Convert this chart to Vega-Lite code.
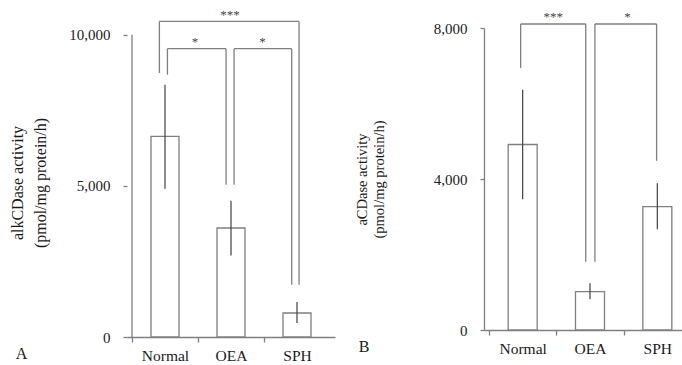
{
  "$schema": "https://vega.github.io/schema/vega-lite/v6.json",
  "padding": {"left": 9, "top": 8, "right": 0, "bottom": 0},
  "background": "white",
  "spacing": 19,
  "align": "none",
  "datasets": {
    "barsA": [
      {"group": "Normal", "pos": 1, "mean": 6636, "lo": 4906, "hi": 8346},
      {"group": "OEA", "pos": 2, "mean": 3606, "lo": 2699, "hi": 4509},
      {"group": "SPH", "pos": 3, "mean": 794, "lo": 463, "hi": 1158}
    ],
    "barsB": [
      {"group": "Normal", "pos": 1, "mean": 4914, "lo": 3466, "hi": 6364},
      {"group": "OEA", "pos": 2, "mean": 1016, "lo": 814, "hi": 1238},
      {"group": "SPH", "pos": 3, "mean": 3270, "lo": 2670, "hi": 3890}
    ],
    "sigA": [
      {"pair": "Normal-SPH", "x1": 0.915, "x2": 3.031, "top": 10440, "lo1": 8733, "lo2": 1730, "xm": 1.983, "label": "***"},
      {"pair": "Normal-OEA", "x1": 1.037, "x2": 1.925, "top": 9537, "lo1": 8677, "lo2": 5038, "xm": 1.455, "label": "*"},
      {"pair": "OEA-SPH", "x1": 2.046, "x2": 2.92, "top": 9537, "lo1": 5038, "lo2": 1730, "xm": 2.479, "label": "*"}
    ],
    "sigB": [
      {"pair": "Normal-OEA", "x1": 0.97, "x2": 1.937, "top": 8106, "lo1": 6939, "lo2": 1811, "xm": 1.454, "label": "***"},
      {"pair": "OEA-SPH", "x1": 2.073, "x2": 2.989, "top": 8106, "lo1": 1811, "lo2": 4481, "xm": 2.556, "label": "*"}
    ],
    "axisA": [
      {"x": 0.5, "from": 0, "to": 10000}
    ]
  },
  "hconcat": [
    {
      "width": 208,
      "height": 309,
      "title": {"text": "A", "orient": "bottom", "anchor": "start", "frame": "bounds", "font": "Liberation Serif", "fontSize": 16, "fontWeight": "normal", "color": "#1a1a1a", "offset": -18, "dx": 6},
      "layer": [
        {
          "data": {"name": "barsA"},
          "mark": {"type": "bar", "orient": "vertical", "width": 28, "fill": "white", "stroke": "#7f7f7f", "strokeWidth": 1.3},
          "encoding": {
            "x": {"field": "pos", "type": "quantitative", "scale": {"domain": [0.5, 3.5], "nice": false, "zero": false},
              "axis": {"title": null, "values": [0.5, 1, 1.5, 2, 2.5, 3], "labelExpr": "datum.value == 1 ? 'Normal' : datum.value == 2 ? 'OEA' : datum.value == 3 ? 'SPH' : ''", "tickSize": 5, "labelPadding": 6, "labelFontSize": 15.5, "labelOverlap": false, "labelFlush": false, "tickOpacity": {"condition": {"test": "datum.value % 1 === 0", "value": 0}, "value": 1}}},
            "y": {"field": "mean", "type": "quantitative", "scale": {"domain": [0, 10222], "nice": false},
              "axis": {"values": [0, 5000, 10000], "format": ",.0f", "domain": false, "tickSize": 4, "labelPadding": 13, "labelFontSize": 15, "title": ["alkCDase activity", "(pmol/mg protein/h)"], "titleFontSize": 16, "titleLineHeight": 23, "titlePadding": 20}}
          }
        },
        {
          "data": {"name": "axisA"},
          "mark": {"type": "rule", "color": "#7f7f7f", "strokeWidth": 1.3},
          "encoding": {
            "x": {"field": "x", "type": "quantitative"},
            "y": {"field": "from", "type": "quantitative"},
            "y2": {"field": "to"}
          }
        },
        {
          "data": {"name": "barsA"},
          "mark": {"type": "errorbar", "color": "#404040", "size": 7, "thickness": 1.2},
          "encoding": {
            "x": {"field": "pos", "type": "quantitative", "title": null},
            "y": {"field": "lo", "type": "quantitative", "title": ["alkCDase activity", "(pmol/mg protein/h)"]},
            "y2": {"field": "hi"}
          }
        },
        {
          "data": {"name": "sigA"},
          "mark": {"type": "rule", "color": "#7f7f7f", "strokeWidth": 1.3},
          "encoding": {
            "x": {"field": "x1", "type": "quantitative"},
            "x2": {"field": "x2"},
            "y": {"field": "top", "type": "quantitative"}
          }
        },
        {
          "data": {"name": "sigA"},
          "mark": {"type": "rule", "color": "#7f7f7f", "strokeWidth": 1.3},
          "encoding": {
            "x": {"field": "x1", "type": "quantitative"},
            "y": {"field": "top", "type": "quantitative"},
            "y2": {"field": "lo1"}
          }
        },
        {
          "data": {"name": "sigA"},
          "mark": {"type": "rule", "color": "#7f7f7f", "strokeWidth": 1.3},
          "encoding": {
            "x": {"field": "x2", "type": "quantitative"},
            "y": {"field": "top", "type": "quantitative"},
            "y2": {"field": "lo2"}
          }
        },
        {
          "data": {"name": "sigA"},
          "mark": {"type": "text", "font": "Liberation Serif", "fontSize": 13, "color": "#444444", "baseline": "alphabetic", "dy": -2.7},
          "encoding": {
            "x": {"field": "xm", "type": "quantitative"},
            "y": {"field": "top", "type": "quantitative"},
            "text": {"field": "label"}
          }
        }
      ]
    },
    {
      "width": 212,
      "height": 302,
      "title": {"text": "B", "orient": "bottom", "anchor": "start", "frame": "bounds", "font": "Liberation Serif", "fontSize": 16, "fontWeight": "normal", "color": "#1a1a1a", "offset": -18, "dx": 4},
      "layer": [
        {
          "data": {"name": "barsB"},
          "mark": {"type": "bar", "orient": "vertical", "width": 29, "fill": "white", "stroke": "#7f7f7f", "strokeWidth": 1.3},
          "encoding": {
            "x": {"field": "pos", "type": "quantitative", "scale": {"domain": [0.5, 3.5], "nice": false, "zero": false},
              "axis": {"title": null, "values": [0.5, 1, 1.5, 2, 2.5, 3], "labelExpr": "datum.value == 1 ? 'Normal' : datum.value == 2 ? 'OEA' : datum.value == 3 ? 'SPH' : ''", "tickSize": 5, "labelPadding": 6, "labelFontSize": 15.5, "labelOverlap": false, "labelFlush": false, "tickOpacity": {"condition": {"test": "datum.value % 1 === 0", "value": 0}, "value": 1}}},
            "y": {"field": "mean", "type": "quantitative", "scale": {"domain": [0, 8000], "nice": false},
              "axis": {"values": [0, 4000, 8000], "format": ",.0f", "tickSize": 4, "labelPadding": 13, "labelFontSize": 15, "title": ["aCDase activity", "(pmol/mg protein/h)"], "titleFontSize": 14.5, "titleLineHeight": 17, "titlePadding": 46.5}}
          }
        },
        {
          "data": {"name": "barsB"},
          "mark": {"type": "errorbar", "color": "#404040", "size": 7, "thickness": 1.2},
          "encoding": {
            "x": {"field": "pos", "type": "quantitative", "title": null},
            "y": {"field": "lo", "type": "quantitative", "title": ["aCDase activity", "(pmol/mg protein/h)"]},
            "y2": {"field": "hi"}
          }
        },
        {
          "data": {"name": "sigB"},
          "mark": {"type": "rule", "color": "#7f7f7f", "strokeWidth": 1.3},
          "encoding": {
            "x": {"field": "x1", "type": "quantitative"},
            "x2": {"field": "x2"},
            "y": {"field": "top", "type": "quantitative"}
          }
        },
        {
          "data": {"name": "sigB"},
          "mark": {"type": "rule", "color": "#7f7f7f", "strokeWidth": 1.3},
          "encoding": {
            "x": {"field": "x1", "type": "quantitative"},
            "y": {"field": "top", "type": "quantitative"},
            "y2": {"field": "lo1"}
          }
        },
        {
          "data": {"name": "sigB"},
          "mark": {"type": "rule", "color": "#7f7f7f", "strokeWidth": 1.3},
          "encoding": {
            "x": {"field": "x2", "type": "quantitative"},
            "y": {"field": "top", "type": "quantitative"},
            "y2": {"field": "lo2"}
          }
        },
        {
          "data": {"name": "sigB"},
          "mark": {"type": "text", "font": "Liberation Serif", "fontSize": 13, "color": "#444444", "baseline": "alphabetic", "dy": -2.7},
          "encoding": {
            "x": {"field": "xm", "type": "quantitative"},
            "y": {"field": "top", "type": "quantitative"},
            "text": {"field": "label"}
          }
        }
      ]
    }
  ],
  "config": {
    "view": {"stroke": null},
    "axis": {"domainColor": "#7f7f7f", "tickColor": "#7f7f7f", "domainWidth": 1.3, "tickWidth": 1.3, "labelFont": "Liberation Serif", "titleFont": "Liberation Serif", "labelColor": "#1a1a1a", "titleColor": "#1a1a1a", "titleFontWeight": "normal", "grid": false}
  }
}
